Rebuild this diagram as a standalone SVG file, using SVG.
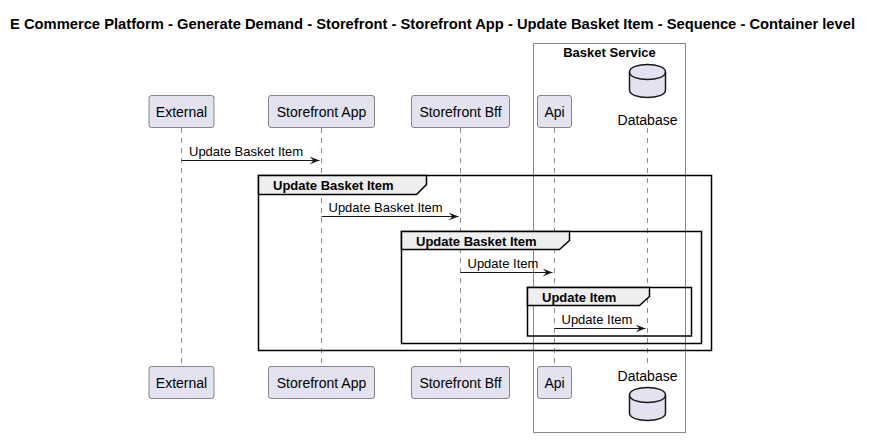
<svg xmlns="http://www.w3.org/2000/svg" width="872" height="445" viewBox="0 0 872 445">
<style>
text{font-family:"Liberation Sans",Arial,sans-serif;fill:#000}
.title{font-size:14px;font-weight:bold}
.p{font-size:14px;text-anchor:middle}
.m{font-size:13px}
.g{font-size:13px;font-weight:bold}
.part{fill:#E2E2F0;stroke:#181818;stroke-width:0.5}
.life{stroke:#181818;stroke-width:0.5;stroke-dasharray:5,5;fill:none}
.msg{stroke:#181818;stroke-width:1;fill:none}
.frame{fill:none;stroke:#000;stroke-width:1.5}
.tab{fill:#EEEEEE;stroke:#000;stroke-width:1.5}
.db{fill:#E2E2F0;stroke:#181818;stroke-width:1.5}
</style>
<defs>
<marker id="ah" markerWidth="12" markerHeight="10" refX="10" refY="4" orient="auto" markerUnits="userSpaceOnUse">
<polygon points="0,0 10,4 0,8 4,4" fill="#181818"/>
</marker>
<g id="cyl">
<path class="db" d="M0,10 C0,0 36,0 36,10 L36,28 C36,38 0,38 0,28 Z"/>
<path class="db" d="M0,10 C0,20 36,20 36,10" style="fill:none"/>
</g>
</defs>
<rect width="872" height="445" fill="#fff"/>
<text class="title" x="10" y="29" textLength="845" lengthAdjust="spacingAndGlyphs">E Commerce Platform - Generate Demand - Storefront - Storefront App - Update Basket Item - Sequence - Container level</text>
<g id="basket-service">
<rect x="533.5" y="43.5" width="152" height="389" fill="none" stroke="#888" stroke-width="1"/>
<text x="609.5" y="57" style="font-size:13px;font-weight:bold;text-anchor:middle">Basket Service</text>
</g>
<g id="lifelines">
<line class="life" x1="181.5" y1="128" x2="181.5" y2="366"/>
<line class="life" x1="321.5" y1="128" x2="321.5" y2="366"/>
<line class="life" x1="460.5" y1="128" x2="460.5" y2="366"/>
<line class="life" x1="554.5" y1="128" x2="554.5" y2="366"/>
<line class="life" x1="647.5" y1="128" x2="647.5" y2="366"/>
</g>
<g id="external">
<rect class="part" x="149" y="95.5" width="65" height="32" rx="2.5"/>
<text class="p" x="181.5" y="116.5">External</text>
<rect class="part" x="149" y="366.5" width="65" height="32" rx="2.5"/>
<text class="p" x="181.5" y="387.5">External</text>
</g>
<g id="storefront-app">
<rect class="part" x="268.5" y="95.5" width="106" height="32" rx="2.5"/>
<text class="p" x="321.5" y="116.5">Storefront App</text>
<rect class="part" x="268.5" y="366.5" width="106" height="32" rx="2.5"/>
<text class="p" x="321.5" y="387.5">Storefront App</text>
</g>
<g id="storefront-bff">
<rect class="part" x="411.5" y="95.5" width="98" height="32" rx="2.5"/>
<text class="p" x="460.5" y="116.5">Storefront Bff</text>
<rect class="part" x="411.5" y="366.5" width="98" height="32" rx="2.5"/>
<text class="p" x="460.5" y="387.5">Storefront Bff</text>
</g>
<g id="api">
<rect class="part" x="537.5" y="95.5" width="34" height="32" rx="2.5"/>
<text class="p" x="554.5" y="116.5">Api</text>
<rect class="part" x="537.5" y="366.5" width="34" height="32" rx="2.5"/>
<text class="p" x="554.5" y="387.5">Api</text>
</g>
<g id="database">
<use href="#cyl" x="629.5" y="62"/>
<text class="p" x="647.5" y="125">Database</text>
<text class="p" x="647.5" y="381">Database</text>
<use href="#cyl" x="629.5" y="385"/>
</g>
<g id="groups">
<rect class="frame" x="258.5" y="175.5" width="453" height="175"/>
<path class="tab" d="M258.5,175.5 L426.5,175.5 L426.5,184.5 L416.5,194.5 L258.5,194.5 Z"/>
<text class="g" x="273" y="190">Update Basket Item</text>
<rect class="frame" x="401.5" y="231.5" width="300" height="112"/>
<path class="tab" d="M401.5,231.5 L569.5,231.5 L569.5,240.5 L559.5,249.5 L401.5,249.5 Z"/>
<text class="g" x="416" y="246">Update Basket Item</text>
<rect class="frame" x="527.5" y="287.5" width="164" height="48.5"/>
<path class="tab" d="M527.5,287.5 L649.5,287.5 L649.5,296.5 L639.5,305.5 L527.5,305.5 Z"/>
<text class="g" x="542" y="302">Update Item</text>
</g>
<g id="connectors">
<line class="msg" x1="181.5" y1="160.5" x2="319.5" y2="160.5" marker-end="url(#ah)"/>
<text class="m" x="189" y="156">Update Basket Item</text>
<line class="msg" x1="321.5" y1="216.5" x2="458.5" y2="216.5" marker-end="url(#ah)"/>
<text class="m" x="328.5" y="212">Update Basket Item</text>
<line class="msg" x1="460.5" y1="272.5" x2="552.5" y2="272.5" marker-end="url(#ah)"/>
<text class="m" x="467.5" y="268">Update Item</text>
<line class="msg" x1="554.5" y1="328.5" x2="645.5" y2="328.5" marker-end="url(#ah)"/>
<text class="m" x="561.5" y="324">Update Item</text>
</g>
</svg>
